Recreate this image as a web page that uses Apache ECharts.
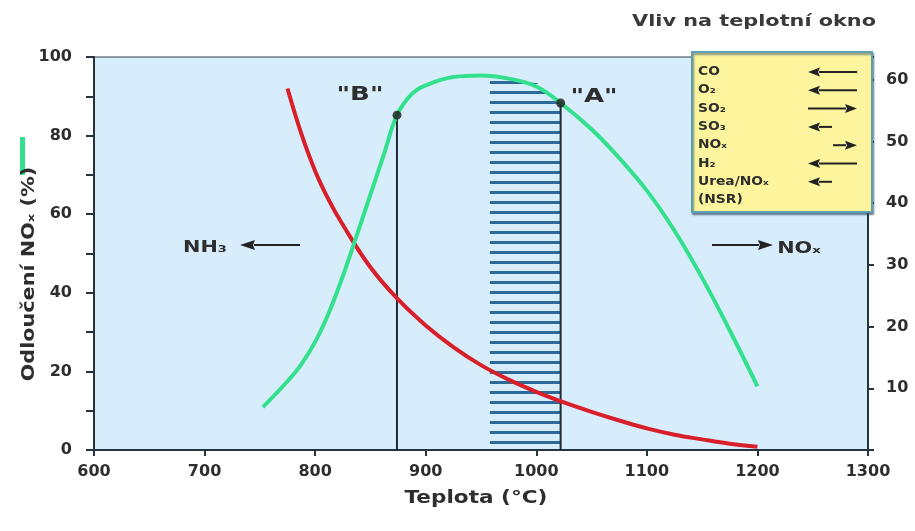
<!DOCTYPE html>
<html><head><meta charset="utf-8">
<script src="https://cdn.jsdelivr.net/npm/echarts@6/dist/echarts.min.js"></script>
<style>html,body{margin:0;padding:0;background:#fff}#c{width:915px;height:531px}</style>
</head><body><div id="c"></div>
<script>
// ---- data ----
const greenX = [752.7, 775, 787.5, 800, 812.5, 825, 837.5, 850, 862.5, 874, 887.5, 900, 925, 950, 975, 1000, 1022, 1050, 1075, 1100, 1125, 1150, 1175, 1200];
const greenY = [10.9, 17.5, 21.8, 27.5, 35, 44.2, 54.5, 65, 75.5, 85.2, 90.6, 92.8, 94.9, 95.3, 94.5, 92.5, 88.3, 81.6, 74.3, 66, 55.8, 43.8, 30.4, 16.2];
const redX = [775, 787.5, 800, 812.5, 825, 850, 875, 900, 925, 950, 975, 1000, 1025, 1050, 1075, 1100, 1125, 1150, 1175, 1200];
const redY = [92, 80.5, 71, 63.5, 57.3, 46.5, 38.3, 31.7, 26.2, 21.6, 17.9, 14.8, 12.1, 9.7, 7.5, 5.5, 3.9, 2.7, 1.6, 0.8];
const pointB = [874, 85.2];
const pointA = [1022, 88.3];
const hatchX = [958, 980, 1001, 1011, 1022];
const hatchTop = [94, 94, 93.3, 91, 88.5];
const xTickValues = [600, 700, 800, 900, 1000, 1100, 1200, 1300];
const leftTickValues = [0, 20, 40, 60, 80, 100];
const rightTickValues = [10, 20, 30, 40, 50, 60];
const effectLabels = ['CO', 'O₂', 'SO₂', 'SO₃', 'NOₓ', 'H₂', 'Urea/NOₓ', '(NSR)'];
const effectDir = [-1, -1, 1, -1, 1, -1, -1, 0];
const effectLen = ['long', 'long', 'long', 'short', 'short', 'long', 'short', 'none'];

// ---- styles ----
const FONT = 'DejaVu Sans';
const TXT = '#2e2e2e';
const AX = '#26343d';
const GREEN = '#33e08d';
const RED = '#d81f2a';

const pc = document.createElement('canvas');
pc.width = 4; pc.height = 10;
const pg = pc.getContext('2d');
pg.fillStyle = '#2b6a9b';
pg.fillRect(0, 1, 4, 3);

function zip(a, b) { return a.map((v, i) => [v, b[i]]); }

function arrowEls(xTail, xTip, y, headLen, halfW, lw, color) {
  const d = xTip > xTail ? 1 : -1;
  const base = xTip - d * headLen;
  return [
    { type: 'line', shape: { x1: xTail, y1: y, x2: base + d * 1, y2: y }, style: { stroke: color, lineWidth: lw }, z: 100 },
    { type: 'polygon', shape: { points: [[xTip, y], [base, y - halfW], [base + d * 2, y], [base, y + halfW]] }, style: { fill: color }, z: 100 }
  ];
}
function txt(text, x, y, size, sx, extra) {
  return Object.assign({ type: 'text', x: x, y: y, scaleX: sx, z: 100,
    style: { text: text, font: 'bold ' + size + 'px ' + FONT, fill: TXT, align: 'center', verticalAlign: 'middle' } }, extra || {});
}

const graphics = [];
graphics.push(txt('Vliv na teplotní okno', 754, 22, 16, 1.3, { style: { text: 'Vliv na teplotní okno', font: 'bold 16px ' + FONT, fill: '#3a3a3a', align: 'center', verticalAlign: 'middle' } }));
graphics.push({ type: 'rect', shape: { x: 20, y: 137, width: 5, height: 38 }, style: { fill: GREEN }, z: 100 });
graphics.push(txt('Odloučení NOₓ (%)', 30, 274, 17, 1.22, { rotation: Math.PI / 2 }));
graphics.push(txt('Teplota (°C)', 476, 499, 17, 1.27));
graphics.push(txt('NH₃', 205, 248, 16, 1.3));
graphics.push(...arrowEls(300, 240, 245, 15, 5, 2, '#222'));
graphics.push(txt('NOₓ', 799, 249, 16, 1.3));
graphics.push(...arrowEls(712, 773, 245, 15, 5, 2, '#222'));
graphics.push(txt('"B"', 360, 95, 20, 1.3));
graphics.push(txt('"A"', 594, 97, 20, 1.3));
// effect box
graphics.push({ type: 'rect', shape: { x: 692, y: 52, width: 180, height: 160 }, style: { fill: '#fcf59d', stroke: '#5f9fb3', lineWidth: 2, shadowBlur: 2, shadowOffsetX: 1, shadowOffsetY: 2, shadowColor: 'rgba(40,70,90,0.6)' }, z: 90 });
effectLabels.forEach((lab, i) => {
  const y = 72 + i * 18.3;
  graphics.push({ type: 'text', x: 698, y: y, scaleX: 1.15, style: { text: lab, font: 'bold 12px ' + FONT, fill: TXT, align: 'left', verticalAlign: 'middle' }, z: 100 });
  if (effectDir[i] !== 0) {
    let tail, tip;
    if (effectDir[i] < 0) { tip = 808; tail = effectLen[i] === 'long' ? 857 : 832; }
    else { tip = 857; tail = effectLen[i] === 'long' ? 808 : 833; }
    graphics.push(...arrowEls(tail, tip, y, 12, 4.5, 2, '#222'));
  }
});

const chart = echarts.init(document.getElementById('c'));
chart.setOption({
  animation: false,
  grid: { left: 94, right: 47, top: 57, bottom: 81, show: true, backgroundColor: '#d8edfb', borderColor: '#33424c', borderWidth: 1, outerBoundsMode: 'none' },
  xAxis: {
    type: 'value', min: xTickValues[0], max: xTickValues[xTickValues.length - 1], interval: 100,
    axisLine: { lineStyle: { color: AX, width: 2 } },
    axisTick: { length: 6, lineStyle: { color: AX, width: 2 } },
    axisLabel: { margin: 14, fontFamily: FONT, fontSize: 16, fontWeight: 'bold', color: TXT,
      formatter: v => xTickValues.includes(v) ? String(v) : '' },
    splitLine: { show: false }
  },
  yAxis: [{
    type: 'value', min: 0, max: 100, interval: 10, position: 'left',
    axisLine: { show: true, lineStyle: { color: AX, width: 2 } },
    axisTick: { show: true, length: 8, lineStyle: { color: AX, width: 2 } },
    axisLabel: { margin: 22, fontFamily: FONT, fontSize: 16, fontWeight: 'bold', color: TXT,
      formatter: v => leftTickValues.includes(v) ? String(v) : '' },
    splitLine: { show: false }
  }, {
    type: 'value', min: 0, max: 63.7, interval: 10, position: 'right',
    axisLine: { show: true, lineStyle: { color: AX, width: 2 } },
    axisTick: { show: true, length: 6, lineStyle: { color: AX, width: 2 } },
    axisLabel: { margin: 18, fontFamily: FONT, fontSize: 16, fontWeight: 'bold', color: TXT,
      formatter: v => rightTickValues.includes(v) ? String(v) : '' },
    splitLine: { show: false }
  }],
  series: [
    { type: 'line', data: zip(hatchX, hatchTop), symbol: 'none', lineStyle: { width: 0 },
      areaStyle: { color: { image: pc, repeat: 'repeat' }, opacity: 1 }, z: 2, silent: true },
    { type: 'line', data: [pointB, [pointB[0], 0]], symbol: 'none', lineStyle: { color: '#1e2a30', width: 2 }, z: 3 },
    { type: 'line', data: [pointA, [pointA[0], 0]], symbol: 'none', lineStyle: { color: '#1e2a30', width: 2 }, z: 3 },
    { type: 'line', data: zip(redX, redY), smooth: 0.4, symbol: 'none', lineStyle: { color: RED, width: 4 }, z: 4 },
    { type: 'line', data: zip(greenX, greenY), smooth: 0.4, symbol: 'none', lineStyle: { color: GREEN, width: 4 }, z: 5 },
    { type: 'scatter', data: [pointB, pointA], symbol: 'circle', symbolSize: 9, itemStyle: { color: '#1b1b1b' }, z: 6 }
  ],
  graphic: graphics
});
</script>
</body></html>
